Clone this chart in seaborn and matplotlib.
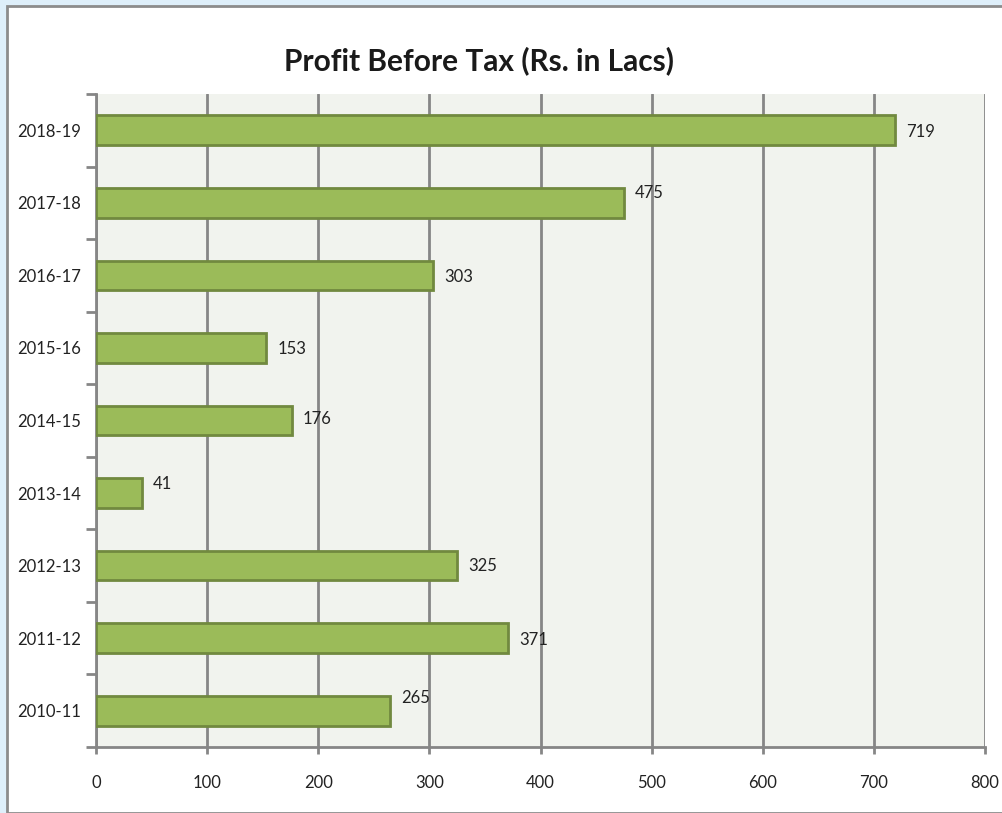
import matplotlib
matplotlib.use("Agg")
import matplotlib.pyplot as plt
import seaborn as sns
import pandas as pd
from matplotlib.patches import Rectangle

years = ["2018-19", "2017-18", "2016-17", "2015-16", "2014-15",
         "2013-14", "2012-13", "2011-12", "2010-11"]
profit = [719, 475, 303, 153, 176, 41, 325, 371, 265]
x_ticks = [0, 100, 200, 300, 400, 500, 600, 700, 800]
title = "Profit Before Tax (Rs. in Lacs)"
# vertical nudges of value labels (in category units, negative = up)
label_dy = [0.02, -0.13, 0.02, 0.02, -0.02, -0.12, 0.0, 0.03, -0.17]

sns.set_theme(style="white")
plt.rcParams['font.family'] = ['Lato', 'DejaVu Sans']

df = pd.DataFrame({"year": years, "profit": profit})

fig = plt.figure(figsize=(10.02, 8.13), dpi=100)
fig.patch.set_facecolor("#DEEFFA")
W, H = 1002, 813
fig.patches.append(Rectangle((7 / W, 0), 1, 1 - 6 / H, transform=fig.transFigure,
                             facecolor="white", edgecolor="#8C8C8C", linewidth=2,
                             zorder=-10))

ax = fig.add_axes([96 / W, 1 - 747 / H, (985 - 96) / W, (747 - 94) / H])
ax.set_facecolor("#F1F3EE")

sns.barplot(data=df, y="year", x="profit", order=years, orient="h",
            color="#9BBB59", edgecolor="#71893F", linewidth=2,
            width=0.41, saturation=1, ax=ax, zorder=3)

ax.set_xlim(0, 800)
ax.set_ylim(len(years) - 0.5, -0.5)
ax.set_xticks(x_ticks)
ax.set_xticklabels([str(t) for t in x_ticks], fontsize=12, color="#222222")
ax.tick_params(axis="x", pad=15)
ax.set_yticks(range(len(years)))
ax.set_yticklabels(years, fontsize=12, color="#222222")
ax.tick_params(axis="y", length=0, pad=11)
ax.grid(axis="x", color="#868686", linewidth=2, zorder=0)
ax.set_axisbelow(True)

# minor ticks at category boundaries on y axis
ax.set_yticks([i - 0.5 for i in range(len(years) + 1)], minor=True)
ax.tick_params(axis="y", which="minor", length=7, width=2, color="#868686", left=True)
ax.tick_params(axis="x", which="major", length=5, width=2, color="#868686", bottom=True)

for s in ["top", "right"]:
    ax.spines[s].set_visible(False)
for s in ["left", "bottom"]:
    ax.spines[s].set_color("#868686")
    ax.spines[s].set_linewidth(2)

ax.set_xlabel("")
ax.set_ylabel("")

for i, (v, dy) in enumerate(zip(profit, label_dy)):
    ax.text(v + 10, i + dy, str(v), va="center", ha="left", fontsize=12,
            color="#222222", zorder=5)

fig.text(479 / W, 1 - 61 / H, title, ha="center", va="center",
         fontsize=21.5, fontweight="bold", color="#1A1A1A")

fig.savefig("out.png", dpi=100, facecolor=fig.get_facecolor())
